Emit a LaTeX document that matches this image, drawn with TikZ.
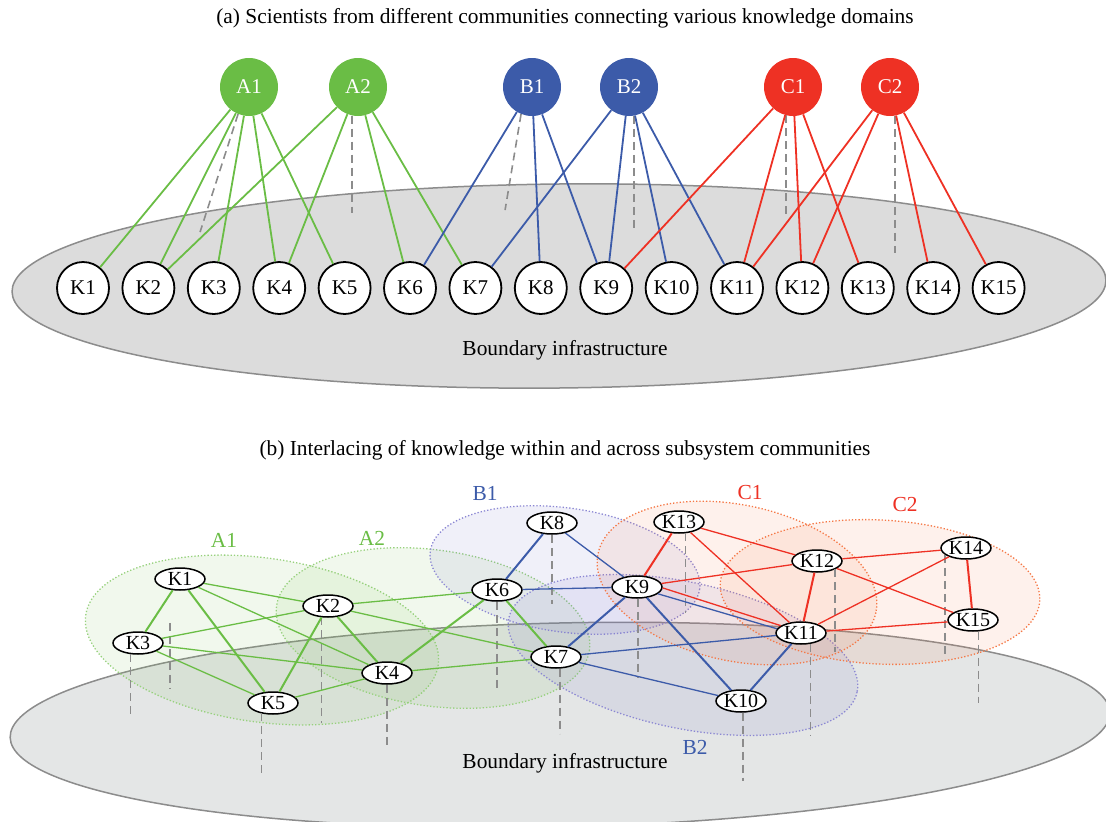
\documentclass[tikz,border=0pt]{standalone}
\usepackage{fontspec}
\setmainfont{Liberation Serif}
\usetikzlibrary{arrows,positioning,shapes.geometric}
\definecolor{agreen}{RGB}{106,189,69}
\definecolor{bblue}{RGB}{60,91,169}
\definecolor{cred}{RGB}{238,49,36}
\definecolor{afill}{RGB}{120,190,80}
\definecolor{bfill}{RGB}{110,105,200}
\definecolor{cfill}{RGB}{245,120,70}
\definecolor{infra}{RGB}{220,220,220}
\definecolor{infrab}{RGB}{228,230,230}
\tikzstyle{sci} = [circle, minimum size=58pt, inner sep=0pt, text=white, font=\fontsize{21}{21}\selectfont]
\tikzstyle{know} = [circle, minimum size=52pt, inner sep=0pt, draw=black, line width=1.8pt, fill=white, font=\fontsize{21}{21}\selectfont]
\tikzstyle{kdot} = [ellipse, minimum width=50pt, minimum height=22pt, inner sep=0pt, draw=black, line width=1.5pt, fill=white, font=\fontsize{20}{20}\selectfont]
\tikzstyle{caption} = [font=\fontsize{21.4}{21.4}\selectfont]
\tikzstyle{drop} = [draw=black!45, line width=1.6pt, dash pattern=on 8pt off 5pt]
\tikzstyle{area} = [dotted, line width=1.3pt]

\begin{document}
\begin{tikzpicture}[x=1pt, y=-1pt, node distance=65.4pt]
        \tikzset{tie/.style={line width=1.8pt}, thin tie/.style={line width=1.3pt}, thick tie/.style={line width=2pt}}
        \useasboundingbox (0,0) rectangle (1106,822);

        % (a)
        \node (titleA) [caption] at (565,18) {(a) Scientists from different communities connecting various knowledge domains};
        \filldraw [fill=infra, draw=black!45, line width=1.5pt, rotate around={0.6:(559,286)}] (559,286) ellipse [x radius=547, y radius=102];
        \node (infraA) [caption] at (565,350) {Boundary infrastructure};

        \node (A1) [sci, fill=agreen] at (249,87) {A1};
        \node (A2) [sci, fill=agreen] at (358,87) {A2};
        \node (B1) [sci, fill=bblue] at (532,87) {B1};
        \node (B2) [sci, fill=bblue] at (629,87) {B2};
        \node (C1) [sci, fill=cred] at (793,87) {C1};
        \node (C2) [sci, fill=cred] at (890,87) {C2};

        \node (K1) [know] at (83,288) {K1};
        \node (K2) [know, right of=K1] {K2};
        \node (K3) [know, right of=K2] {K3};
        \node (K4) [know, right of=K3] {K4};
        \node (K5) [know, right of=K4] {K5};
        \node (K6) [know, right of=K5] {K6};
        \node (K7) [know, right of=K6] {K7};
        \node (K8) [know, right of=K7] {K8};
        \node (K9) [know, right of=K8] {K9};
        \node (K10) [know, right of=K9] {K10};
        \node (K11) [know, right of=K10] {K11};
        \node (K12) [know, right of=K11] {K12};
        \node (K13) [know, right of=K12] {K13};
        \node (K14) [know, right of=K13] {K14};
        \node (K15) [know, right of=K14] {K15};

        \draw [drop] (A1.-112) -- ++(-38,118);
        \draw [drop] (A2.-102) -- ++(0,97);
        \draw [drop] (B1.-112) -- ++(-16,96);
        \draw [drop] (B2.-80) -- ++(0,116);
        \draw [drop] (C1.-104) -- ++(0,100);
        \draw [drop] (C2.-80) -- ++(0,137);

        \draw [tie, agreen] (A1) -- (K1);
        \draw [tie, agreen] (A1) -- (K2);
        \draw [tie, agreen] (A1) -- (K3);
        \draw [tie, agreen] (A1) -- (K4);
        \draw [tie, agreen] (A1) -- (K5);
        \draw [tie, agreen] (A2) -- (K2);
        \draw [tie, agreen] (A2) -- (K4);
        \draw [tie, agreen] (A2) -- (K6);
        \draw [tie, agreen] (A2) -- (K7);
        \draw [tie, bblue] (B1) -- (K6);
        \draw [tie, bblue] (B1) -- (K8);
        \draw [tie, bblue] (B1) -- (K9);
        \draw [tie, bblue] (B2) -- (K7);
        \draw [tie, bblue] (B2) -- (K9);
        \draw [tie, bblue] (B2) -- (K10);
        \draw [tie, bblue] (B2) -- (K11);
        \draw [tie, cred] (C1) -- (K9);
        \draw [tie, cred] (C1) -- (K11);
        \draw [tie, cred] (C1) -- (K12);
        \draw [tie, cred] (C1) -- (K13);
        \draw [tie, cred] (C2) -- (K11);
        \draw [tie, cred] (C2) -- (K12);
        \draw [tie, cred] (C2) -- (K14);
        \draw [tie, cred] (C2) -- (K15);

        % (b)
        \node (titleB) [caption] at (565,450) {(b) Interlacing of knowledge within and across subsystem communities};
        \filldraw [fill=infrab, draw=black!45, line width=1.5pt, rotate around={1.3:(560,725)}] (560,725) ellipse [x radius=550, y radius=102];
        \node (infraB) [caption] at (565,763) {Boundary infrastructure};

        \filldraw [area, draw=agreen!70, fill=afill, fill opacity=0.1, rotate around={-8:(262,640)}] (262,640) ellipse [x radius=178, y radius=82];
        \filldraw [area, draw=agreen!70, fill=afill, fill opacity=0.1, rotate around={-8:(433,628)}] (433,628) ellipse [x radius=158, y radius=78];
        \filldraw [area, draw=bfill!80, fill=bfill, fill opacity=0.1, rotate around={-8:(565,570)}] (565,570) ellipse [x radius=136, y radius=62];
        \filldraw [area, draw=bfill!80, fill=bfill, fill opacity=0.1, rotate around={-12:(683,655)}] (683,655) ellipse [x radius=178, y radius=73];
        \filldraw [area, draw=cfill, fill=cfill, fill opacity=0.1, rotate around={-12:(737,583)}] (737,583) ellipse [x radius=142, y radius=78];
        \filldraw [area, draw=cfill, fill=cfill, fill opacity=0.1, rotate around={-3:(880,592)}] (880,592) ellipse [x radius=160, y radius=72];

        \node (nameA1) [caption, text=agreen] at (224,540) {A1};
        \node (nameA2) [caption, text=agreen] at (372,538) {A2};
        \node (nameB1) [caption, text=bblue] at (485,493) {B1};
        \node (nameB2) [caption, text=bblue] at (695,747) {B2};
        \node (nameC1) [caption, text=cred] at (750,493) {C1};
        \node (nameC2) [caption, text=cred] at (905,505) {C2};

        \node (k1) [kdot] at (180,579) {K1};
        \node (k2) [kdot] at (328,606) {K2};
        \node (k3) [kdot] at (138,643) {K3};
        \node (k4) [kdot] at (387,673) {K4};
        \node (k5) [kdot] at (273,703) {K5};
        \node (k6) [kdot] at (497,590) {K6};
        \node (k7) [kdot] at (556,657) {K7};
        \node (k8) [kdot] at (552,523) {K8};
        \node (k9) [kdot] at (637,587) {K9};
        \node (k10) [kdot] at (741,701) {K10};
        \node (k11) [kdot] at (801,633) {K11};
        \node (k12) [kdot] at (817,561) {K12};
        \node (k13) [kdot] at (679,522) {K13};
        \node (k14) [kdot] at (966,548) {K14};
        \node (k15) [kdot] at (973,620) {K15};

        \draw [drop] ([xshift=-10pt,yshift=-32pt]k1.south) -- ++(0,66);
        \draw [drop] (k2.-119) -- ++(0,106);
        \draw [drop] (k3.-123) -- ++(0,63);
        \draw [drop] (k4.south) -- ++(0,64);
        \draw [drop] (k5.-138) -- ++(0,64);
        \draw [drop] (k6.south) -- ++(0,87);
        \draw [drop] (k7.-70) -- ++(0,65);
        \draw [drop] (k8.south) -- ++(0,69);
        \draw [drop] (k9.-85) -- ++(0,79);
        \draw [drop] (k10.-80) -- ++(0,68);
        \draw [drop] (k11.-49) -- ++(0,92);
        \draw [drop] (k12.-25) -- ++(0,83);
        \draw [drop] (k13.-61) -- ++(0,80);
        \draw [drop] (k14.-162) -- ++(0,100);
        \draw [drop] (k15.-65) -- ++(0,71);

        \draw [thin tie, agreen] (k1) -- (k2);
        \draw [thin tie, agreen] (k1) -- (k4);
        \draw [thin tie, agreen] (k3) -- (k2);
        \draw [thin tie, agreen] (k3) -- (k4);
        \draw [thin tie, agreen] (k3) -- (k5);
        \draw [thin tie, agreen] (k2) -- (k6);
        \draw [thin tie, agreen] (k2) -- (k7);
        \draw [thin tie, agreen] (k5) -- (k4);
        \draw [thin tie, agreen] (k4) -- (k7);
        \draw [thick tie, agreen] (k1) -- (k3);
        \draw [thick tie, agreen] (k1) -- (k5);
        \draw [thick tie, agreen] (k2) -- (k5);
        \draw [thick tie, agreen] (k2) -- (k4);
        \draw [thick tie, agreen] (k4) -- (k6);
        \draw [thick tie, agreen] (k6) -- (k7);

        \draw [thin tie, bblue] (k6) -- (k9);
        \draw [thin tie, bblue] (k8) -- (k9);
        \draw [thin tie, bblue] (k7) -- (k11);
        \draw [thin tie, bblue] (k7) -- (k10);
        \draw [thin tie, bblue] (k9.-18) -- (k11.170);
        \draw [thick tie, bblue] (k6) -- (k8);
        \draw [thick tie, bblue] (k7) -- (k9);
        \draw [thick tie, bblue] (k9) -- (k10);
        \draw [thick tie, bblue] (k10) -- (k11);

        \draw [thin tie, cred] (k13) -- (k12);
        \draw [thin tie, cred] (k13) -- (k11);
        \draw [thin tie, cred] (k9) -- (k12);
        \draw [thin tie, cred] (k9.-2) -- (k11.160);
        \draw [thin tie, cred] (k12) -- (k14);
        \draw [thin tie, cred] (k12) -- (k15);
        \draw [thin tie, cred] (k14) -- (k11);
        \draw [thin tie, cred] (k15) -- (k11);
        \draw [thick tie, cred] (k9) -- (k13);
        \draw [thick tie, cred] (k12) -- (k11);
        \draw [thick tie, cred] (k14) -- (k15);
\end{tikzpicture}
\end{document}
